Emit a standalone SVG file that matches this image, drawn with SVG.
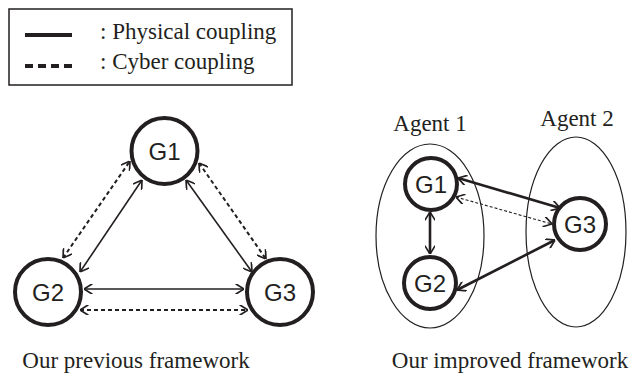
<svg xmlns="http://www.w3.org/2000/svg" width="633" height="382" viewBox="0 0 633 382">
<style>
.serif{font-family:"Liberation Serif","Times New Roman",serif;font-size:23px;fill:#231f20}
.sans{font-family:"Liberation Sans",Arial,sans-serif;font-size:24px;fill:#231f20;text-anchor:middle}
.node{fill:#fff;stroke:#231f20;stroke-width:4}
.agent{fill:none;stroke:#231f20;stroke-width:1.2}
.thin{stroke:#231f20;stroke-width:1.6;fill:none;marker-start:url(#ah);marker-end:url(#ah)}
.thindash{stroke:#231f20;stroke-width:2;stroke-dasharray:4 3;fill:none;marker-start:url(#ah);marker-end:url(#ah)}
.thick{stroke:#231f20;stroke-width:2.6;fill:none;marker-start:url(#ah);marker-end:url(#ah)}
.finedash{stroke:#231f20;stroke-width:1.1;stroke-dasharray:3 2;fill:none;marker-start:url(#ah);marker-end:url(#ah)}
</style>
<defs>
<marker id="ah" viewBox="0 0 10 10" refX="10" refY="5" markerWidth="10.5" markerHeight="10.5" markerUnits="userSpaceOnUse" orient="auto-start-reverse">
<path d="M2,0 L10,5 L2,10" fill="none" stroke="#231f20" stroke-width="1.6"/>
</marker>
</defs>
<g id="legend">
<rect x="9" y="9" width="283" height="76" fill="none" stroke="#231f20" stroke-width="1.5"/>
<line x1="25" y1="35" x2="72" y2="35" stroke="#231f20" stroke-width="4"/>
<line x1="25" y1="66" x2="72" y2="66" stroke="#231f20" stroke-width="4" stroke-dasharray="8 5"/>
<text class="serif" x="100" y="39">: Physical coupling</text>
<text class="serif" x="100" y="69">: Cyber coupling</text>
</g>
<g id="agents">
<ellipse id="agent1" class="agent" cx="430" cy="236" rx="54" ry="92"/>
<ellipse id="agent2" class="agent" cx="576" cy="232" rx="50" ry="95"/>
<text class="serif" x="430" y="131" text-anchor="middle">Agent 1</text>
<text class="serif" x="577" y="126" text-anchor="middle">Agent 2</text>
</g>
<g id="connectors">
<line class="thin" x1="80" y1="272" x2="142" y2="180"/>
<line class="thindash" x1="63" y1="258" x2="130" y2="161"/>
<line class="thin" x1="186" y1="180" x2="252" y2="272"/>
<line class="thindash" x1="199" y1="163" x2="266" y2="259"/>
<line class="thin" x1="84" y1="289" x2="244" y2="289"/>
<line class="thindash" x1="80" y1="310" x2="248" y2="310"/>
<line class="thick" x1="430" y1="212" x2="430" y2="254"/>
<line class="thick" x1="458" y1="178" x2="560" y2="208"/>
<line class="finedash" x1="456" y1="197" x2="552" y2="224"/>
<line class="thick" x1="457" y1="290" x2="555" y2="240"/>
</g>
<g id="L-G1"><circle class="node" cx="164.5" cy="151" r="33"/><text class="sans" x="164.5" y="159.5">G1</text></g>
<g id="L-G2"><circle class="node" cx="48" cy="292" r="33"/><text class="sans" x="48" y="300.5">G2</text></g>
<g id="L-G3"><circle class="node" cx="280" cy="292" r="33"/><text class="sans" x="280" y="300.5">G3</text></g>
<g id="R-G1"><circle class="node" cx="431" cy="184" r="26"/><text class="sans" x="431" y="192.5">G1</text></g>
<g id="R-G2"><circle class="node" cx="430" cy="283" r="26"/><text class="sans" x="430" y="291.5">G2</text></g>
<g id="R-G3"><circle class="node" cx="580" cy="224" r="26"/><text class="sans" x="580" y="232.5">G3</text></g>
<g id="captions">
<text class="serif" x="136" y="368" text-anchor="middle">Our previous framework</text>
<text class="serif" x="510" y="368" text-anchor="middle">Our improved framework</text>
</g>
</svg>
